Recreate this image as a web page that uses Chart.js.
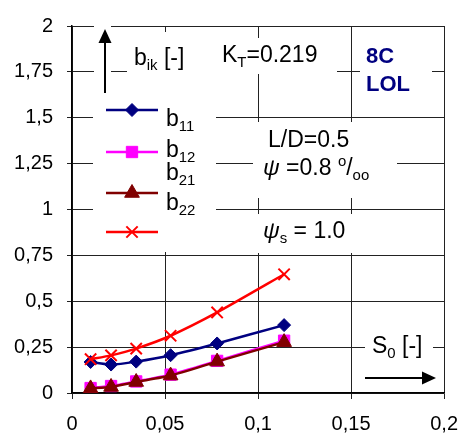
<!DOCTYPE html>
<html>
<head>
<meta charset="utf-8">
<script src="https://cdn.jsdelivr.net/npm/chart.js@4"></script>
<style>
    body { margin: 0; background: #fff; }
    canvas { display: block; }
</style>
</head>
<body>
<canvas id="chart" width="471" height="435"></canvas>
<script>
// S0 values (x) and b_ik values
let s0 = [0.01, 0.021, 0.0345, 0.053, 0.078, 0.114]
let b11 = [0.169, 0.155, 0.171, 0.206, 0.270, 0.370]
let b12 = [0.027, 0.038, 0.063, 0.100, 0.175, 0.285]
let b21 = [0.025, 0.033, 0.060, 0.095, 0.171, 0.277]
let b22 = [0.184, 0.205, 0.242, 0.312, 0.439, 0.647]

let xTickLabels = ['0', '0,05', '0,1', '0,15', '0,2']
let yTickLabels = ['0', '0,25', '0,5', '0,75', '1', '1,25', '1,5', '1,75', '2']

const FONT = '"Liberation Sans", Arial, sans-serif'

function pts(ys) {
    return s0.map((x, i) => ({ x: x, y: ys[i] }))
}

function series(label, ys, color, style, radius, order) {
    return {
        label: label,
        data: pts(ys),
        showLine: true,
        borderColor: color,
        backgroundColor: color,
        borderWidth: 2.5,
        tension: 0.2,
        pointStyle: style,
        pointRadius: radius,
        pointBorderWidth: style == 'crossRot' ? 2 : 1,
        order: order
    }
}

// text with sub/superscripts: parts = [[text, kind], ...]
function richText(ctx, x, y, parts, size, color, bold) {
    ctx.save()
    ctx.fillStyle = color
    ctx.textBaseline = 'alphabetic'
    ctx.textAlign = 'left'
    let cx = x
    for (let p of parts) {
        let kind = p[1] || ''
        let s = size, dy = 0, it = ''
        if (kind == 'sub') { s = size * 0.65; dy = size * 0.22 }
        if (kind == 'sup') { s = size * 0.65; dy = -size * 0.4 }
        if (kind == 'it') it = 'italic '
        ctx.font = it + (bold ? 'bold ' : '') + s + 'px ' + FONT
        ctx.fillText(p[0], cx, y + dy)
        cx += ctx.measureText(p[0]).width
    }
    ctx.restore()
}

function arrowHead(ctx, x, y, dir) {
    ctx.beginPath()
    if (dir == 'up') {
        ctx.moveTo(x, y); ctx.lineTo(x - 6.5, y + 14); ctx.lineTo(x + 6.5, y + 14)
    } else {
        ctx.moveTo(x, y); ctx.lineTo(x - 14, y - 6.5); ctx.lineTo(x - 14, y + 6.5)
    }
    ctx.closePath()
    ctx.fill()
}

let annotations = {
    id: 'annotations',
    beforeDatasetsDraw(chart) {
        let ctx = chart.ctx
        ctx.save()
        // white boxes behind the texts, they cut the grid lines
        ctx.fillStyle = '#fff'
        let boxes = [
            [94, 26, 111, 98], [127, 32, 195, 100], [195, 38, 337, 74],
            [360, 40, 432, 103], [93, 100, 216, 252], [253, 122, 397, 198],
            [257, 214, 358, 253], [365, 335, 433, 363]
        ]
        for (let b of boxes) ctx.fillRect(b[0], b[1], b[2] - b[0], b[3] - b[1])

        ctx.fillStyle = '#000'
        ctx.strokeStyle = '#000'
        ctx.lineWidth = 2
        // y arrow
        ctx.beginPath(); ctx.moveTo(105, 93); ctx.lineTo(105, 40); ctx.stroke()
        arrowHead(ctx, 105, 29, 'up')
        // x arrow
        ctx.beginPath(); ctx.moveTo(365, 378); ctx.lineTo(425, 378); ctx.stroke()
        arrowHead(ctx, 436, 378, 'right')

        richText(ctx, 134, 65, [['b'], ['ik', 'sub'], [' [-]']], 23, '#000')
        richText(ctx, 222, 62, [['K'], ['T', 'sub'], ['=0.219']], 23, '#000')
        richText(ctx, 366, 63, [['8C']], 22, '#000080', true)
        richText(ctx, 366, 91, [['LOL']], 22, '#000080', true)
        richText(ctx, 268, 147, [['L/D=0.5']], 23, '#000')
        richText(ctx, 263, 175, [['\u03C8', 'it'], [' =0.8 '], ['o', 'sup'], ['/'], ['oo', 'sub']], 23, '#000')
        richText(ctx, 263, 238, [['\u03C8', 'it'], ['s', 'sub'], [' = 1.0']], 23, '#000')
        richText(ctx, 372, 353, [['S'], ['0', 'sub'], [' [-]']], 23, '#000')

        // legend: sample lines with markers, labels beside
        let rows = [110, 152, 193, 232]
        chart.data.datasets.forEach((ds, i) => {
            let y = rows[i]
            ctx.strokeStyle = ds.borderColor
            ctx.fillStyle = ds.backgroundColor
            ctx.lineWidth = 2.5
            ctx.beginPath(); ctx.moveTo(106, y); ctx.lineTo(158, y); ctx.stroke()
            ctx.lineWidth = ds.pointBorderWidth
            Chart.helpers.drawPoint(ctx, { pointStyle: ds.pointStyle, radius: ds.pointRadius, rotation: 0, borderWidth: ds.pointBorderWidth }, 132, y)
        })
        let labY = [126, 157, 180, 210]
        let subs = ['11', '12', '21', '22']
        for (let i = 0; i < 4; i++) {
            richText(ctx, 166, labY[i], [['b'], [subs[i], 'sub']], 23, '#000')
        }
        ctx.restore()
    }
}

new Chart(document.getElementById('chart'), {
    type: 'scatter',
    data: {
        datasets: [
            series('b11', b11, '#000080', 'rectRot', 6.5, 3),
            series('b12', b12, '#FF00FF', 'rect', 8, 2),
            series('b21', b21, '#800000', 'triangle', 8.5, 1),
            series('b22', b22, '#FF0000', 'crossRot', 8, 0)
        ]
    },
    options: {
        responsive: false,
        animation: false,
        layout: { padding: { top: 15, right: 18, left: 0, bottom: 0 } },
        plugins: { legend: { display: false }, tooltip: { enabled: false } },
        scales: {
            x: {
                type: 'linear',
                min: 0,
                max: 0.2,
                afterFit: s => { s.height = 42 },
                ticks: {
                    stepSize: 0.05,
                    padding: 13,
                    color: '#000',
                    font: { family: FONT, size: 20 },
                    maxRotation: 0,
                    callback: (v, i) => xTickLabels[i]
                },
                grid: { color: '#222', lineWidth: 1, tickLength: 6 },
                border: { color: '#000', width: 1.5 }
            },
            y: {
                min: 0,
                max: 2,
                afterFit: s => { s.width = 72 },
                ticks: {
                    stepSize: 0.25,
                    padding: 14,
                    color: '#000',
                    font: { family: FONT, size: 20 },
                    callback: (v, i) => yTickLabels[i]
                },
                grid: { color: '#222', lineWidth: 1, tickLength: 5 },
                border: { color: '#000', width: 1.5 }
            }
        }
    },
    plugins: [annotations]
})
</script>
</body>
</html>
